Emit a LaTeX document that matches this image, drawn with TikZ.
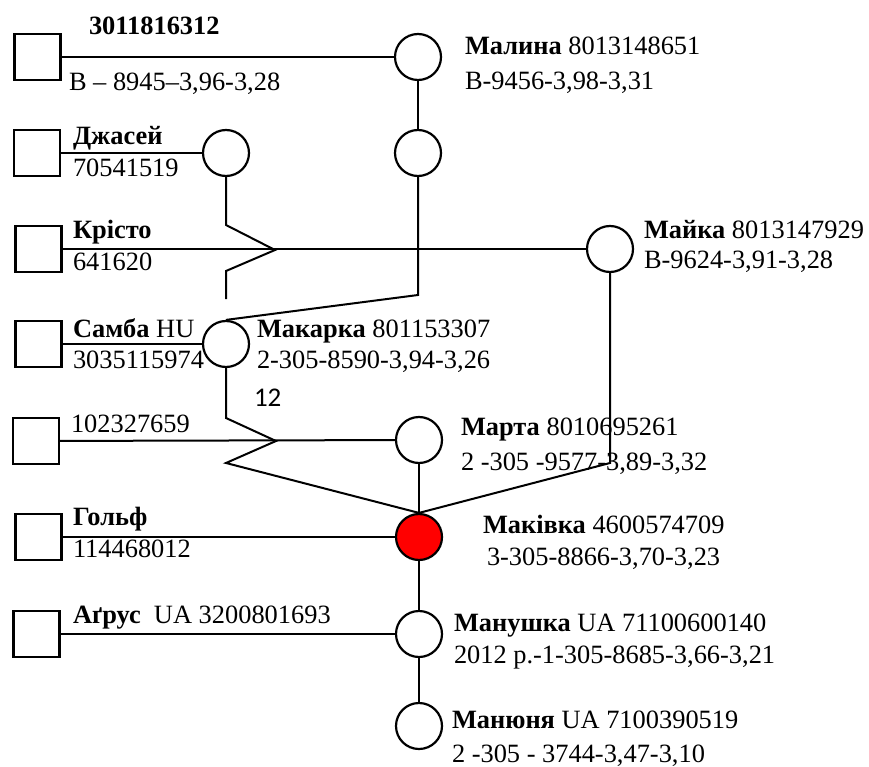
\documentclass[tikz,border=0pt]{standalone}
\usepackage{fontspec}
\setmainfont{Liberation Serif}
\newfontfamily\numfont{Carlito}
\begin{document}
\begin{tikzpicture}[x=1pt,y=-1pt,
  line width=2pt,
  male/.style={draw,line width=2.2pt,minimum size=46pt,inner sep=0pt,shape=rectangle},
  female/.style={draw,line width=2.2pt,circle,minimum size=46pt,inner sep=0pt},
  proband/.style={female,fill=red},
  lbl/.style={anchor=base west,inner sep=0pt,font=\fontsize{26.4}{33}\selectfont},
  small/.style={anchor=base west,inner sep=0pt,font=\numfont\fontsize{27}{32}\selectfont}]
\useasboundingbox (0,0) rectangle (869,767);

% males (squares)
\node[male] (s1) at (37.5,57) {};
\node[male] (s2) at (37,153) {};
\node[male] (s3) at (38.5,249) {};
\node[male] (s4) at (38.5,344) {};
\node[male] (s5) at (36,441) {};
\node[male] (s6) at (38.5,537) {};
\node[male] (s7) at (36.5,634) {};

% females (circles)
\node[female] (malina) at (418,57) {};
\node[female] (c2) at (418,153) {};
\node[female] (dzhasei) at (226,153) {};
\node[female] (maika) at (610,249) {};
\node[female] (makarka) at (226,344) {};
\node[female] (marta) at (419,440) {};
\node[proband] (makivka) at (419,537) {};
\node[female] (manushka) at (419,634) {};
\node[female] (manyunya) at (419,726) {};

% bend points
\coordinate (k1) at (418,295);
\coordinate (j1) at (226,225);
\coordinate (j2) at (275,250);
\coordinate (j3) at (226,271);
\coordinate (j4) at (226,299);
\coordinate (m1) at (610,463);
\coordinate (p1) at (226,418);
\coordinate (p2) at (276,441);
\coordinate (p3) at (226,463);

% connectors
\draw (s1) -- (malina);
\draw (malina) -- (c2);
\draw (c2.south) -- (k1) -- (makarka.north);
\draw (s2) -- (dzhasei);
\draw (dzhasei.south) -- (j1) -- (j2) -- (j3) -- (j4);
\draw (s3) -- (maika);
\draw (maika.south) -- (m1) -- (makivka.north);
\draw (s4) -- (makarka);
\draw (makarka.south) -- (p1) -- (p2) -- (p3) -- (makivka.north);
\draw (s5) -- (marta);
\draw (marta) -- (makivka);
\draw (s6) -- (makivka);
\draw (makivka) -- (manushka);
\draw (s7) -- (manushka);
\draw (manushka) -- (manyunya);

% labels
\node[lbl] (t1a) at (88,35) {\textbf{3011816312}};
\node[lbl] (t1b) at (68,91) {B – 8945–3,96-3,28};
\node[lbl] (t2a) at (72,145) {\textbf{Джасей}};
\node[lbl] (t2b) at (72,177) {70541519};
\node[lbl] (t3a) at (72,238) {\textbf{Крісто}};
\node[lbl] (t3b) at (72,270) {641620};
\node[lbl] (t4a) at (72,337) {\textbf{Самба} HU};
\node[lbl] (t4b) at (72,368) {3035115974};
\node[lbl] (t5b) at (70,432) {102327659};
\node[lbl] (t6a) at (72,525) {\textbf{Гольф}};
\node[lbl] (t6b) at (72,557) {114468012};
\node[lbl] (t7a) at (72,623) {\textbf{Аґрус}\ \ UA 3200801693};

\node[lbl] (la) at (464,55) {\textbf{Малина} 8013148651};
\node[lbl] (lb) at (464,90) {B-9456-3,98-3,31};
\node[lbl] (ma) at (643,238) {\textbf{Майка} 8013147929};
\node[lbl] (mb) at (643,268) {B-9624-3,91-3,28};
\node[lbl] (ka) at (256,337) {\textbf{Макарка} 801153307};
\node[lbl] (kb) at (256,368) {2-305-8590-3,94-3,26};
\node[small] (num) at (253,406) {12};
\node[lbl] (ra) at (460,435) {\textbf{Марта} 8010695261};
\node[lbl] (rb) at (460,470) {2 -305 -9577-3,89-3,32};
\node[lbl] (va) at (482,533) {\textbf{Маківка} 4600574709};
\node[lbl] (vb) at (486,565) {3-305-8866-3,70-3,23};
\node[lbl] (na) at (453,631) {\textbf{Манушка} UA 71100600140};
\node[lbl] (nb) at (453,663) {2012 р.-1-305-8685-3,66-3,21};
\node[lbl] (ya) at (451,728) {\textbf{Манюня} UA 7100390519};
\node[lbl] (yb) at (451,762) {2 -305 - 3744-3,47-3,10};
\end{tikzpicture}
\end{document}
